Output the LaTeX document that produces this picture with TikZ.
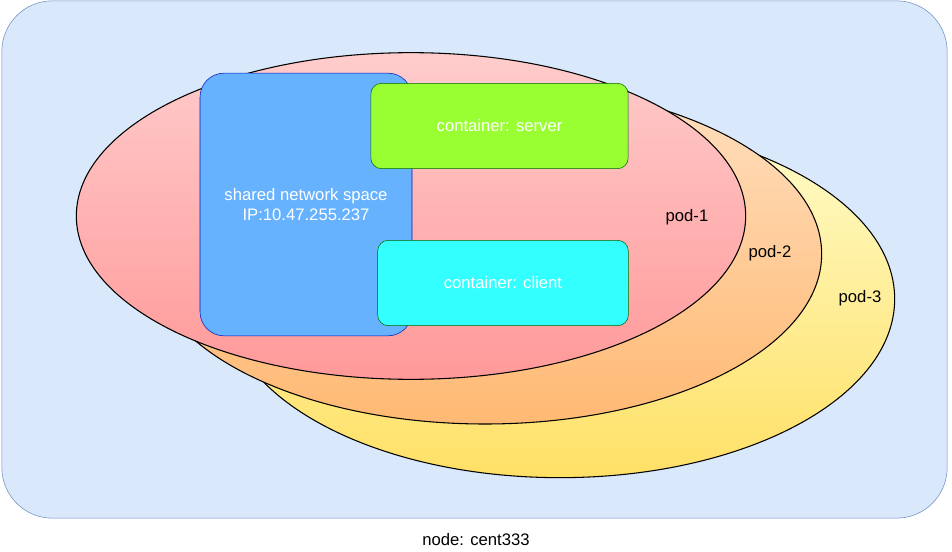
\documentclass[tikz,border=0pt]{standalone}
\usepackage{fontspec}
\setmainfont{Liberation Sans}
\usetikzlibrary{shapes.geometric}
\definecolor{nodebg}{HTML}{DAE8FC}
\definecolor{nodeline}{HTML}{6C8EBF}
\definecolor{netfill}{HTML}{66B2FF}
\definecolor{netline}{HTML}{001DBC}
\definecolor{serverfill}{HTML}{99FF33}
\definecolor{clientfill}{HTML}{33FFFF}
\tikzset{
  txt/.style={font=\fontsize{12.5}{15}\selectfont},
  pod/.style={ellipse, draw=black, thick, minimum width=#1},
  box/.style={rounded corners=8pt, draw=green!40!black, text=white, txt},
  lbl/.style={txt}
}
\begin{document}
\begin{tikzpicture}[x=0.75pt,y=-0.75pt]
            \useasboundingbox (0,0) rectangle (952,552);
            \node[draw=nodeline, fill=nodebg, rounded corners=38pt, minimum width=709pt, minimum height=388pt] (host) at (474.5,259.5) {};
            \node[lbl] (hostlbl) at (476,540) {node: cent333};
            \node[pod=502pt, minimum height=268pt, top color=orange!10!yellow!20, bottom color=yellow!60!orange!60] (pod3) at (560,299) {};
            \node[pod=505pt, minimum height=255pt, top color=orange!25, bottom color=orange!55] (pod2) at (485,254) {};
            \node[pod=502pt, minimum height=245pt, top color=red!20, bottom color=red!40] (pod1) at (411,216) {};
            \node[lbl] (pod3lbl) at (860,298) {pod-3};
            \node[lbl] (pod2lbl) at (770,253) {pod-2};
            \node[lbl] (pod1lbl) at (687,217) {pod-1};
            \node[draw=netline, fill=netfill, rounded corners=18pt, minimum width=159pt, minimum height=197pt, text=white, txt, align=center] (net) at (306,204.5) {shared network space\\IP:10.47.255.237};
            \node[box, fill=serverfill, minimum width=193pt, minimum height=64pt] (server) at (499.5,126) {container: server};
            \node[box, fill=clientfill, minimum width=188pt, minimum height=64pt] (client) at (503,283) {container: client};
\end{tikzpicture}
\end{document}
